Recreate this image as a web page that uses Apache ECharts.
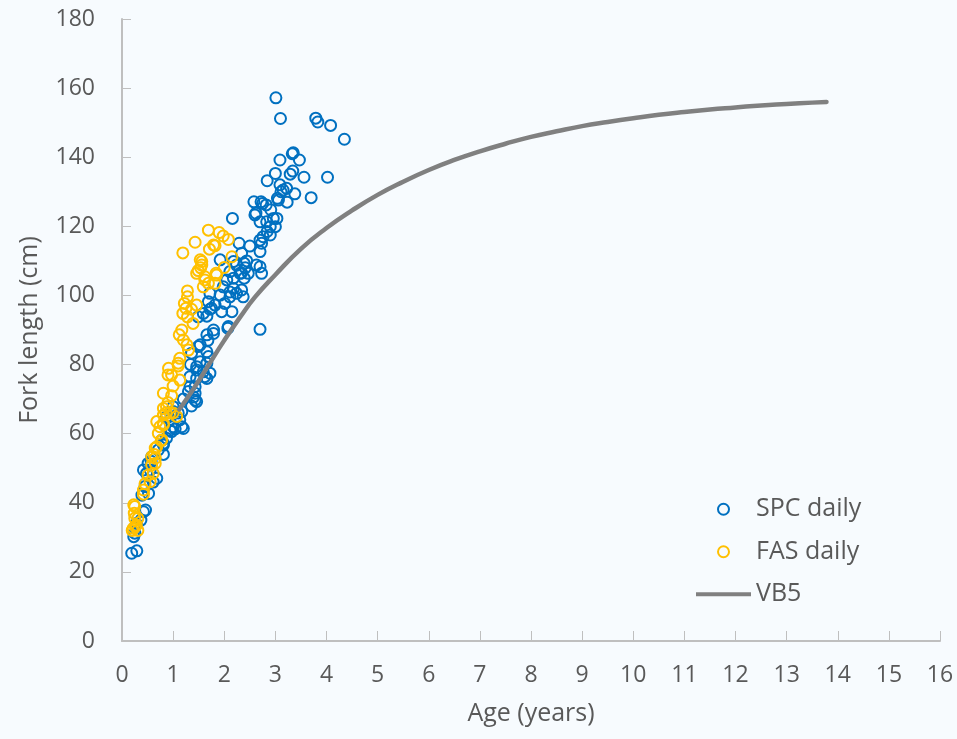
<!DOCTYPE html>
<html>
<head>
<meta charset="utf-8">
<script src="https://cdn.jsdelivr.net/npm/echarts@6/dist/echarts.min.js"></script>
<style>
html,body{margin:0;padding:0;background:#f7fbfe;}
#chart{width:957px;height:739px;}
</style>
</head>
<body>
<div id="chart"></div>
<script>
// SPC daily: [age (years), fork length (cm)]
var spcDaily = [
[0.19,25.4],[0.29,26.1],[0.23,30.2],[0.25,31.2],[0.28,34],[0.37,35],[0.42,37.4],[0.46,37.9],[0.39,42.2],[0.52,42.7],[0.45,44.7],
[0.48,48.5],[0.42,49.5],[0.55,49.5],[0.51,51.4],[0.57,52],[0.61,46],[0.68,47.1],[0.58,53.3],[0.71,55.3],[0.77,58],[0.81,57.2],
[0.87,58.7],[0.81,56.7],[0.81,54],[0.97,60.6],[1.04,61.4],[0.94,61],[1.0,62],[1.17,62],[1.20,61.5],[1.13,64],[0.94,64],[0.87,64.9],
[1.0,66.4],[1.10,66],[1.17,66.4],[1.0,67.8],[1.36,68],[1.43,69.7],[1.46,69.3],[1.40,70.6],[1.2,70],[1.30,72.2],[1.43,71.7],
[1.43,73.6],[1.33,73.6],[1.33,76.5],[1.46,76],[1.62,76.5],[1.66,76],[1.59,77.9],[1.46,78.4],[1.72,77.5],[1.46,79.4],[1.34,80],
[1.53,80.8],[1.66,80.4],[1.36,83.3],[1.66,83.7],[1.69,82.3],[1.53,85.7],[1.49,85.2],[1.66,88.6],[1.68,87],[1.79,89],[1.79,90],
[1.49,93.8],[1.59,94.8],[1.66,94],[1.72,96],[1.75,96.3],[1.82,97.2],[1.69,98.2],[2.08,91],[2.07,90.5],[1.95,95.3],[2.15,95.3],
[2.01,97.7],[1.92,100.1],[2.11,101],[2.24,100.6],[2.37,99.6],[2.11,99.6],[1.72,100.6],[2.34,101.6],[2.18,102],[1.98,102.5],
[2.05,104.5],[2.18,105],[2.39,105],[2.34,106.5],[2.47,106.4],[2.31,106.4],[2.73,106.4],[2.11,106.9],[2.41,108],[2.24,108.8],
[2.63,108.8],[2.70,108.3],[2.39,109.3],[2.18,109.8],[1.92,110.3],[2.44,110],[2.34,112.2],[2.70,112.7],[2.50,114.3],[2.29,115.1],
[2.73,115.1],[2.70,116],[2.76,117],[2.90,117.5],[2.84,118.5],[2.90,119.9],[3.0,119.9],[2.70,121.3],[2.83,121.3],[2.96,122.3],
[3.03,122.3],[2.16,122.3],[2.60,123.3],[2.62,123.8],[2.91,124.8],[2.82,126.2],[2.75,126.6],[2.58,127.1],[2.72,127.1],[3.06,127.6],
[3.23,127],[3.04,128.1],[3.70,128.3],[3.38,129.4],[3.11,130],[3.15,130.5],[3.22,131],[3.09,132],[2.84,133.2],[3.56,134.2],
[4.02,134.2],[3.0,135.3],[3.29,135.1],[3.34,136],[3.09,139.2],[3.47,139.2],[3.33,141],[3.35,141.3],[4.35,145.2],[4.08,149.2],
[3.83,150.2],[3.79,151.3],[3.10,151.2],[3.01,157.2],[2.70,90.2]
];
// FAS daily: [age (years), fork length (cm)]
var fasDaily = [
[0.23,39.4],[0.25,38.9],[0.24,37],[0.25,35.5],[0.31,35.5],[0.28,33.5],[0.26,33.1],[0.22,32.6],[0.31,32],[0.2,32],
[0.42,42.5],[0.42,43.7],[0.45,45.5],[0.51,48],[0.55,46.1],[0.61,48.5],[0.58,50.9],[0.65,51.4],[0.58,53.3],[0.65,52.9],
[0.63,54],[0.65,55.8],[0.68,56.2],[0.77,58],[0.78,58.2],[0.71,60.1],[0.74,62],[0.81,62.5],[0.68,63.5],[0.81,63],
[0.81,65.4],[0.86,66],[0.94,66],[1.07,65],[1.0,66],[0.87,67.8],[0.81,67.3],[0.9,69],[0.97,71],[0.81,71.7],
[1.0,73.8],[1.13,75.5],[0.97,77],[0.9,77],[0.91,78.9],[1.10,79.6],[1.10,80.4],[1.13,81.8],[1.30,84.2],[1.27,85.7],
[1.20,87.1],[1.12,88.6],[1.17,90],[1.39,91.9],[1.28,93.8],[1.19,94.8],[1.36,96],[1.25,96.3],[1.46,97.2],[1.22,97.7],
[1.28,99.6],[1.28,101.3],[1.59,102.5],[1.69,103.5],[1.82,103.5],[1.62,104.5],[1.62,105.4],[1.85,105.9],[1.46,106.4],[1.84,106.4],
[1.49,107.2],[2.0,108.1],[1.56,108.8],[1.54,108],[1.56,109.8],[1.53,110.3],[2.15,111.2],[1.19,112.3],[1.71,113.4],[1.82,114.4],
[1.79,114.6],[1.43,115.4],[2.08,116.2],[1.98,117.2],[1.90,118.2],[1.69,118.9]
];
// VB5 growth curve
var vbAge = [1.12,1.4,1.7,2.0,2.3,2.6,3.0,3.5,4.0,4.5,5.0,5.5,6.0,6.5,7.0,7.5,8.0,8.5,9.0,9.5,10.0,10.5,11.0,11.5,12.0,12.5,13.0,13.5,13.78];
var vbLength = [67,73,80,87,93.5,99.5,106,113.5,119.5,124.6,129.1,132.9,136.3,139.2,141.7,143.9,145.9,147.5,149,150.2,151.3,152.3,153.1,153.8,154.4,155,155.4,155.8,156];

var vbData = vbAge.map(function(a,i){return [a, vbLength[i]];});
var txt = '#595959';
var fnt = 'Open Sans';
var fs = 23;
var fsName = 25;
var chart = echarts.init(document.getElementById('chart'), null, {renderer:'canvas'});
chart.setOption({
  backgroundColor:'#f7fbfe',
  animation:false,
  textStyle:{fontFamily:fnt},
  grid:{left:122,right:17,top:19,bottom:98,containLabel:false},
  legend:{
    orient:'vertical', left:691, top:490, itemWidth:55, itemHeight:11, itemGap:14,
    textStyle:{color:txt,fontSize:fsName,fontFamily:fnt,lineHeight:28.5},
    data:[{name:'SPC daily'},{name:'FAS daily'},
          {name:'VB5',icon:'path://M0,0M55,11M0,3.5L55,3.5L55,7.5L0,7.5Z',itemStyle:{color:'#808080',borderWidth:0}}]
  },
  xAxis:{
    type:'value', min:0, max:16, interval:1,
    name:'Age (years)', nameLocation:'middle', nameGap:60,
    nameTextStyle:{color:txt,fontSize:fsName,fontFamily:fnt},
    axisLine:{show:true,onZero:false,lineStyle:{color:'#bfbfbf',width:2}},
    axisTick:{show:true,inside:true,length:10,lineStyle:{color:'#bfbfbf',width:1}},
    axisLabel:{color:txt,fontSize:fs,margin:23,fontFamily:fnt},
    splitLine:{show:false}
  },
  yAxis:{
    type:'value', min:0, max:180, interval:20,
    name:'Fork length (cm)', nameLocation:'middle', nameGap:80, nameRotate:90,
    nameTextStyle:{color:txt,fontSize:fsName,fontFamily:fnt},
    axisLine:{show:true,lineStyle:{color:'#bfbfbf',width:2}},
    axisTick:{show:true,inside:true,length:9,lineStyle:{color:'#bfbfbf',width:1}},
    axisLabel:{color:txt,fontSize:fs,margin:27,fontFamily:fnt},
    splitLine:{show:false}
  },
  series:[
    {name:'SPC daily',type:'scatter',data:spcDaily,symbol:'circle',symbolSize:11,
     itemStyle:{color:'rgba(0,0,0,0)',borderColor:'#0070C0',borderWidth:2,opacity:1},z:2},
    {name:'FAS daily',type:'scatter',data:fasDaily,symbol:'circle',symbolSize:11,
     itemStyle:{color:'rgba(0,0,0,0)',borderColor:'#FFC000',borderWidth:2,opacity:1},z:3},
    {name:'VB5',type:'line',data:vbData,smooth:true,symbol:'none',showSymbol:false,
     lineStyle:{color:'#808080',width:4.5,cap:'round'},itemStyle:{color:'#808080'},z:4}
  ]
});
</script>
</body>
</html>
